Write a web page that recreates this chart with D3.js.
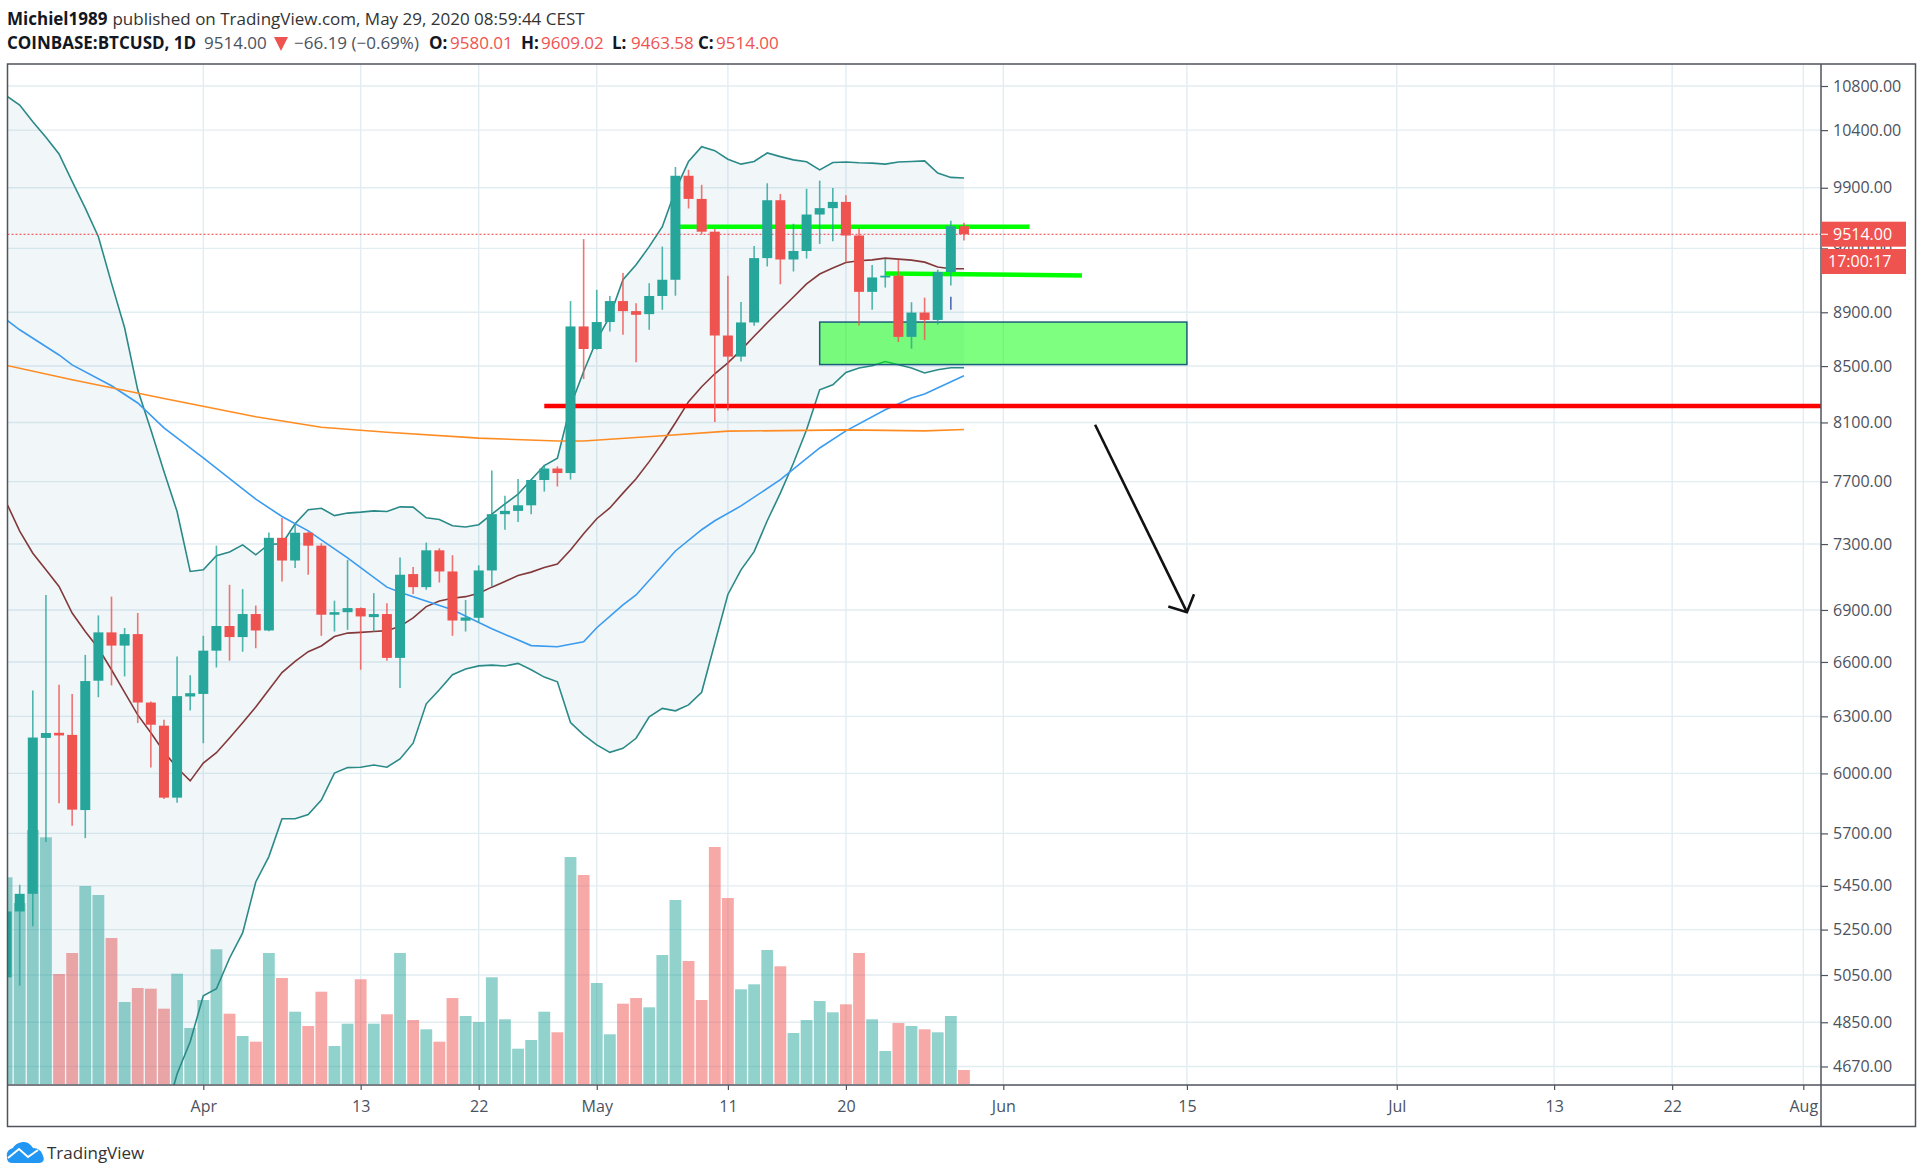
<!DOCTYPE html>
<html>
<head>
<meta charset="utf-8">
<script src="https://cdn.jsdelivr.net/npm/d3@7"></script>
<style>
  body { margin: 0; background: #fff; }
  svg { display: block; font-family: "Open Sans", sans-serif; }
</style>
</head>
<body>
<div id="chart"></div>
<script>
// daily candles, Mar 17 to May 29 2020
var openPrices = [5040,5332,5413,6185,6212,6201,5815,6495,6769,6693,6759,6375,6250,5877,6408,
  6422,6664,6806,6742,6876,6780,7339,7198,7371,7290,6872,6887,6911,6858,6876,6623,7115,7036,7261,7131,6837,6854,7137,7489,7510,7546,7711,7787,7757,8793,
  8625,8826,8986,8909,8886,9025,9151,10002,9806,9535,8725,8569,8823,9322,9795,9311,9379,9676,9729,9781,9504,9057,9169,9183,8715,8898,8842,9212,9580.01];
var highPrices = [5390,5455,6441,6989,6473,6422,6640,6868,6979,6794,6882,6380,6282,6631,6525,
  6749,7290,7050,7024,6926,7373,7464,7422,7376,7305,6955,7202,6915,7000,6940,7216,7158,7309,7274,7231,6959,7168,7774,7608,7717,7715,7812,7801,8986,9475,
  9073,9025,9204,8969,9124,9414,10077,10053,9925,9557,9183,8979,9420,9938,9848,9600,9891,9960,9897,9837,9562,9267,9314,9308,8977,9012,9230,9625,9609.02];
var lowPrices = [4990,5004,5265,5658,5849,5738,5677,6404,6469,6519,6264,6030,5870,5852,6332,
  6157,6569,6607,6658,6678,6775,7070,7152,7111,6749,6774,6784,6556,6774,6607,6454,6995,7020,7064,6749,6774,6827,7040,7390,7439,7489,7635,7668,7714,8406,
  8620,8755,8730,8528,8768,8919,9027,9726,9512,8103,8183,8533,8798,9256,9116,9216,9319,9436,9458,9287,8800,8919,9090,8677,8627,8692,8808,9106,9463.58];
var closePrices = [5332,5413,6187,6211,6198,5817,6493,6769,6693,6759,6375,6255,5877,6410,6426,
  6664,6806,6742,6876,6780,7339,7198,7371,7290,6872,6887,6911,6862,6876,6623,7111,7036,7261,7131,6838,6856,7137,7489,7510,7546,7711,7787,7757,8793,8625,
  8826,8986,8909,8881,9025,9151,10002,9806,9535,8725,8569,8823,9322,9795,9311,9379,9676,9729,9781,9504,9057,9169,9183,8715,8898,8842,9212,9580,9514];
var volumes = [20670,18100,25400,24670,11000,13100,19800,18900,14600,8200,9600,9530,7530,11030,5600,
  8400,13470,7030,4800,4230,13100,10600,7230,5800,9230,3800,6030,10470,6030,6970,13100,6400,5470,4230,8600,6800,6200,10670,6470,3530,4400,7230,5170,22700,20900,
  10100,4970,8030,8600,7670,12900,18400,12300,8400,23700,18600,9470,9970,13400,11770,5100,6400,8300,7170,7970,13100,6470,3300,6100,5800,5470,5170,6800,1400];

// bollinger bands, same days
var bbUpper = [10708,10626,10475,10337,10190,9954,9729,9494,9125,8783,8329,8049,7767,7506,7131,
  7141,7228,7251,7295,7233,7299,7301,7428,7517,7527,7480,7496,7502,7510,7506,7536,7534,7466,7455,7415,7407,7422,7489,7555,7618,7713,7807,7856,8215,8461,
  8692,8869,9151,9269,9414,9576,9880,10125,10253,10219,10145,10102,10125,10199,10167,10139,10122,10053,10116,10120,10114,10111,10102,10120,10125,10130,10025,9988,9983];
var bbMiddle = [7561,7381,7243,7141,7040,6882,6774,6678,6556,6430,6308,6212,6112,6029,5962,
  6053,6107,6185,6266,6351,6445,6540,6603,6658,6691,6745,6765,6769,6774,6779,6804,6853,6920,6953,6969,6979,6999,7036,7070,7106,7127,7155,7176,7263,7365,
  7460,7529,7625,7719,7833,7959,8098,8245,8351,8444,8523,8617,8719,8821,8919,9017,9119,9196,9243,9287,9301,9308,9322,9314,9306,9290,9251,9238,9238];
// the first ones are below the bottom of the chart, so only a guess
var bbLower = [4414,4136,4011,3945,3890,3810,3819,3862,3987,4077,4287,4375,4457,4640,4770,
  4961,4991,5123,5235,5468,5588,5772,5772,5793,5865,6002,6030,6032,6043,6032,6075,6157,6368,6445,6528,6560,6578,6582,6577,6592,6556,6515,6489,6267,6201,
  6148,6109,6130,6183,6298,6343,6330,6362,6431,6706,6992,7141,7253,7447,7625,7824,8049,8329,8365,8454,8486,8502,8533,8509,8486,8450,8473,8488,8488];

// moving averages, only the days where I took a reading
var ma50Dates = ["2020-03-17","2020-03-18","2020-03-21","2020-03-22","2020-03-25","2020-03-27","2020-03-29","2020-04-01","2020-04-04","2020-04-05","2020-04-07","2020-04-09","2020-04-12","2020-04-15","2020-04-16","2020-04-17","2020-04-20","2020-04-23","2020-04-26","2020-04-28","2020-04-30","2020-05-01","2020-05-03","2020-05-04","2020-05-07","2020-05-09","2020-05-10","2020-05-12","2020-05-15","2020-05-18","2020-05-20","2020-05-23","2020-05-25","2020-05-26","2020-05-29"];
var ma50Values = [8842,8768,8581,8509,8358,8236,8063,7858,7653,7586,7474,7383,7214,7036,7006,6979,6901,6790,6693,6686,6715,6796,6930,6989,7257,7390,7447,7542,7713,7925,8042,8188,8271,8300,8430];
var ma200Dates = ["2020-03-17","2020-03-22","2020-03-25","2020-03-29","2020-04-05","2020-04-10","2020-04-15","2020-04-22","2020-04-28","2020-04-30","2020-05-06","2020-05-11","2020-05-17","2020-05-20","2020-05-26","2020-05-29"];
var ma200Values = [8505,8401,8344,8268,8139,8067,8032,7992,7973,7973,8008,8040,8045,8049,8042,8051];

// axes
var priceTicks = [10800,10400,9900,9400,8900,8500,8100,7700,7300,6900,6600,6300,6000,5700,5450,5250,5050,4850,4670];
var timeTickDates = ["2020-04-01","2020-04-13","2020-04-22","2020-05-01","2020-05-11","2020-05-20","2020-06-01","2020-06-15","2020-07-01","2020-07-13","2020-07-22","2020-08-01"];
var timeTickLabels = ["Apr","13","22","May","11","20","Jun","15","Jul","13","22","Aug"];

// things the author drew on the chart
var lastPrice = 9514;
var upperLevelDates = ["2020-05-07","2020-06-03"];
var upperLevelPrices = [9576,9576];
var lowerLevelDates = ["2020-05-23","2020-06-07"];
var lowerLevelPrices = [9200,9185];
var supportDates = ["2020-04-27","2020-08-03"];
var supportPrices = [8215,8215];
var zoneDates = ["2020-05-18","2020-06-15"];
var zonePrices = [8826,8511];
var arrowDates = ["2020-06-08","2020-06-15"];
var arrowPrices = [8084,6887];
var arrowHeadDates = ["2020-06-13T14:00","2020-06-15","2020-06-15T13:00"];
var arrowHeadPrices = [6920,6887,6993];
var markDates = ["2020-05-28","2020-05-28"];
var markPrices = [9020,8919];

var parseDay = d => new Date(d.length > 10 ? d + "Z" : d + "T00:00Z");
var days = d3.utcDay.range(parseDay("2020-03-17"), parseDay("2020-05-30"));

var width = 1922, height = 1176;
var left = 7.5, top_ = 64, right = 1821, bottom = 1085, outerRight = 1915.5, outerBottom = 1126.5;

var up = "#26a69a", down = "#ef5350", gridColor = "#e2edf2", axisColor = "#50535e", labelColor = "#4c525e";

var x = d3.scaleTime().domain([parseDay("2020-04-01"), parseDay("2020-06-01")]).range([203.3, 1003.3]);
var y = d3.scaleLog().domain([10800, 4670]).range([86, 1066.5]);
var yVolume = d3.scaleLinear().domain([0, 24000]).range([1084, 844]);

var svg = d3.select("#chart").append("svg").attr("width", width).attr("height", height);

svg.append("clipPath").attr("id", "plot").append("rect")
  .attr("x", left).attr("y", top_).attr("width", right - left).attr("height", bottom - top_);

// grid
var grid = svg.append("g").attr("stroke", gridColor).attr("stroke-width", 1.4);
grid.selectAll(".h").data(priceTicks).join("line")
  .attr("x1", left).attr("x2", right).attr("y1", d => y(d)).attr("y2", d => y(d));
grid.selectAll(".v").data(timeTickDates).join("line")
  .attr("x1", d => x(parseDay(d))).attr("x2", d => x(parseDay(d))).attr("y1", top_).attr("y2", bottom);

var plot = svg.append("g").attr("clip-path", "url(#plot)");

// volume
plot.append("g").selectAll("rect").data(days).join("rect")
  .attr("x", d => x(d) - 5.9).attr("width", 11.8)
  .attr("y", (d, i) => yVolume(volumes[i]))
  .attr("height", (d, i) => yVolume(0) - yVolume(volumes[i]))
  .attr("fill", (d, i) => closePrices[i] >= openPrices[i] ? up : down)
  .attr("opacity", 0.5);

// bollinger fill and lines
var band = d3.area().x(d => x(d)).y0((d, i) => y(bbLower[i])).y1((d, i) => y(bbUpper[i]));
plot.append("path").attr("d", band(days)).attr("fill", "#2b7fa8").attr("opacity", 0.065);

function drawLine(dates, values, color, w) {
  var line = d3.line().x(d => x(d[0])).y(d => y(d[1]));
  return plot.append("path")
    .attr("d", line(dates.map((d, i) => [d, values[i]])))
    .attr("fill", "none").attr("stroke", color).attr("stroke-width", w);
}
drawLine(days, bbUpper, "#2a8a88", 1.6);
drawLine(days, bbLower, "#2a8a88", 1.6);
drawLine(days, bbMiddle, "#83393a", 1.6);
drawLine(ma50Dates.map(parseDay), ma50Values, "#3a9bf0", 1.6);
drawLine(ma200Dates.map(parseDay), ma200Values, "#ff8c23", 1.6);

// last price line
plot.append("line").attr("x1", left).attr("x2", right)
  .attr("y1", y(lastPrice)).attr("y2", y(lastPrice))
  .attr("stroke", "#f9393c").attr("stroke-width", 1).attr("stroke-dasharray", "2 2");

// drawings sit under the candles
drawLine(supportDates.map(parseDay), supportPrices, "#ff0000", 4.5);
plot.append("rect")
  .attr("x", x(parseDay(zoneDates[0]))).attr("width", x(parseDay(zoneDates[1])) - x(parseDay(zoneDates[0])))
  .attr("y", y(zonePrices[0])).attr("height", y(zonePrices[1]) - y(zonePrices[0]))
  .attr("fill", "#00ff00").attr("fill-opacity", 0.5)
  .attr("stroke", "#1c5f7c").attr("stroke-width", 1.5);
drawLine(upperLevelDates.map(parseDay), upperLevelPrices, "#00ff00", 4.5);
drawLine(lowerLevelDates.map(parseDay), lowerLevelPrices, "#00ff00", 4.5);

// candles
plot.append("g").selectAll("line").data(days).join("line")
  .attr("x1", d => x(d)).attr("x2", d => x(d))
  .attr("y1", (d, i) => y(highPrices[i])).attr("y2", (d, i) => y(lowPrices[i]))
  .attr("stroke", (d, i) => closePrices[i] >= openPrices[i] ? up : down)
  .attr("stroke-width", 1.6).attr("opacity", 0.8);
plot.append("g").selectAll("rect").data(days).join("rect")
  .attr("x", d => x(d) - 5).attr("width", 10)
  .attr("y", (d, i) => y(Math.max(openPrices[i], closePrices[i])))
  .attr("height", (d, i) => Math.max(1.5, Math.abs(y(openPrices[i]) - y(closePrices[i]))))
  .attr("fill", (d, i) => closePrices[i] >= openPrices[i] ? up : down);

drawLine(markDates.map(parseDay), markPrices, "#4a6bb5", 1.6);

// arrow
drawLine(arrowDates.map(parseDay), arrowPrices, "#111", 2.6);
drawLine(arrowHeadDates.map(parseDay), arrowHeadPrices, "#111", 2.6);

// frame
svg.append("rect").attr("x", left).attr("y", top_)
  .attr("width", outerRight - left).attr("height", outerBottom - top_)
  .attr("fill", "none").attr("stroke", axisColor).attr("stroke-width", 1.5);

// price axis
var yAxis = d3.axisRight(y).tickValues(priceTicks).tickFormat(d3.format(".2f")).tickSize(7).tickPadding(5);
var yG = svg.append("g").attr("transform", `translate(${right},0)`).call(yAxis);
yG.select(".domain").remove();
svg.append("line").attr("x1", right).attr("x2", right).attr("y1", top_).attr("y2", outerBottom)
  .attr("stroke", axisColor).attr("stroke-width", 1.5);
yG.selectAll("line").attr("stroke", axisColor).attr("stroke-width", 1.2);
yG.selectAll("text").attr("fill", labelColor).style("font-size", "16px").style("font-family", "'Open Sans', sans-serif");

// time axis
var xAxis = d3.axisBottom(x).tickValues(timeTickDates.map(parseDay))
  .tickFormat((d, i) => timeTickLabels[i]).tickSize(5).tickPadding(11);
var xG = svg.append("g").attr("transform", `translate(0,${bottom})`).call(xAxis);
xG.select(".domain").remove();
svg.append("line").attr("x1", left).attr("x2", outerRight).attr("y1", bottom).attr("y2", bottom)
  .attr("stroke", axisColor).attr("stroke-width", 1.5);
xG.selectAll("line").attr("stroke", axisColor).attr("stroke-width", 1.2);
xG.selectAll("text").attr("fill", labelColor).style("font-size", "16px").style("font-family", "'Open Sans', sans-serif");

// price badges
var badges = [["9514.00", 221.7, 1833], ["17:00:17", 249, 1828]];
badges.forEach(b => {
  svg.append("rect").attr("x", right).attr("y", b[1]).attr("width", 85).attr("height", 25).attr("fill", down);
  svg.append("text").attr("x", b[2]).attr("y", b[1] + 18).attr("fill", "#fff").attr("font-size", 16).text(b[0]);
});
svg.append("line").attr("x1", right).attr("x2", right + 7).attr("y1", y(lastPrice)).attr("y2", y(lastPrice)).attr("stroke", "#fff");

// header
var head = svg.append("g").attr("font-size", 17);
head.append("text").attr("x", 7).attr("y", 25).attr("fill", "#131722")
  .call(t => t.append("tspan").attr("font-weight", 700).text("Michiel1989"))
  .call(t => t.append("tspan").attr("dx", 5).attr("fill", "#333").text("published on TradingView.com, May 29, 2020 08:59:44 CEST"));
var legend = [
  ["COINBASE:BTCUSD, 1D", 7, "#131722", 700],
  ["9514.00", 204, "#4c525e", 400],
  ["−66.19 (−0.69%)", 294, "#4c525e", 400],
  ["O:", 429, "#131722", 700], ["9580.01", 450, down, 400],
  ["H:", 521, "#131722", 700], ["9609.02", 541, down, 400],
  ["L:", 612, "#131722", 700], ["9463.58", 631, down, 400],
  ["C:", 698, "#131722", 700], ["9514.00", 716, down, 400]
];
legend.forEach(l => {
  head.append("text").attr("x", l[1]).attr("y", 49).attr("fill", l[2]).attr("font-weight", l[3]).text(l[0]);
});
head.append("path").attr("d", "M274 37H288L281 51Z").attr("fill", down);

// logo
svg.append("path")
  .attr("d", "M7 1157C6 1152 9 1149 13 1148C15 1144 20 1142 24 1142C28 1142 31 1145 33 1148C38 1148 42 1151 43 1156C45 1160 43 1163 39 1163H12C8 1163 7 1160 7 1157Z")
  .attr("fill", "#2196f3");
svg.append("path").attr("d", "M8 1158L19 1149L28 1157L38 1150").attr("fill", "none").attr("stroke", "#fff").attr("stroke-width", 2);
svg.append("text").attr("x", 47).attr("y", 1159).attr("font-size", 17).attr("fill", "#333").text("TradingView");
</script>
</body>
</html>
